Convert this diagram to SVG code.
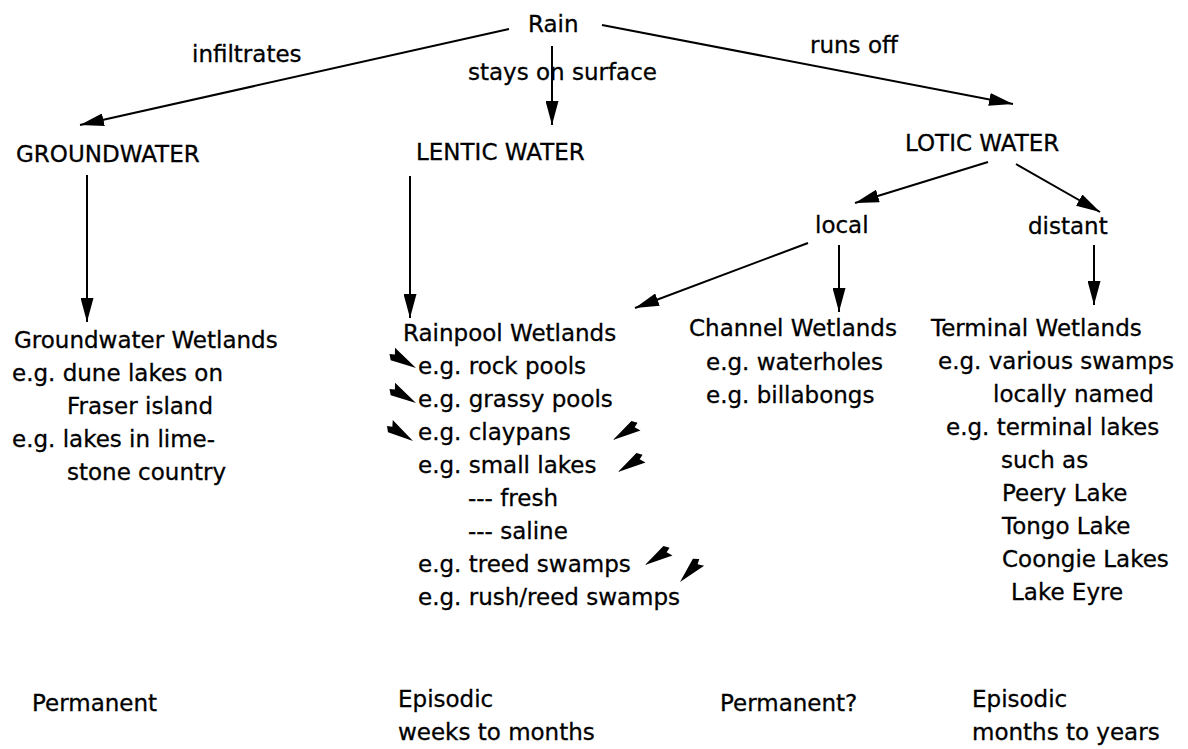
<svg xmlns="http://www.w3.org/2000/svg" width="1188" height="749" viewBox="0 0 1188 749">
<style>
text{font-family:"DejaVu Sans","Liberation Sans",sans-serif;font-size:23px;fill:#000;stroke:#000;stroke-width:0.3}
.c{stroke:#000;stroke-width:2;fill:none;marker-end:url(#ah)}
.sa{fill:#000}
</style>
<defs>
<marker id="ah" markerUnits="userSpaceOnUse" viewBox="0 0 24 13" refX="24" refY="6.5" markerWidth="24" markerHeight="13" orient="auto">
<path d="M0,0 L24,6.5 L0,13 Z" fill="#000"/>
</marker>
<path id="stray" d="M0,0 L-28,-8 L-25,-2 L-30,0 L-26,5 Z"/>
</defs>
<rect width="1188" height="749" fill="#fff"/>
<g id="connectors">
<line class="c" x1="509" y1="29" x2="80" y2="125"/>
<line class="c" x1="552" y1="46" x2="552" y2="125"/>
<line class="c" x1="602" y1="25" x2="1013" y2="104"/>
<line class="c" x1="87" y1="175" x2="87" y2="322"/>
<line class="c" x1="410" y1="176" x2="410" y2="318"/>
<line class="c" x1="988" y1="162" x2="855" y2="203"/>
<line class="c" x1="1016" y1="164" x2="1100" y2="212"/>
<line class="c" x1="839" y1="245" x2="839" y2="312"/>
<line class="c" x1="1094" y1="245" x2="1094" y2="305"/>
<line class="c" x1="808" y1="243" x2="635" y2="308"/>
<g class="sa">
<use href="#stray" transform="translate(416,368) rotate(28)"/>
<use href="#stray" transform="translate(416,403) rotate(28)"/>
<use href="#stray" transform="translate(413,441) rotate(30)"/>
<use href="#stray" transform="translate(613,440) rotate(145)"/>
<use href="#stray" transform="translate(618,472) rotate(145)"/>
<use href="#stray" transform="translate(645,565) rotate(145)"/>
<use href="#stray" transform="translate(680,582) rotate(130)"/>
</g>
</g>
<g id="rain"><text x="528" y="32">Rain</text></g>
<g id="lbl-infiltrates"><text x="192" y="62">infiltrates</text></g>
<g id="lbl-stays"><text x="468" y="80">stays on surface</text></g>
<g id="lbl-runs"><text x="810" y="53">runs off</text></g>
<g id="groundwater"><text x="16" y="162">GROUNDWATER</text></g>
<g id="lentic"><text x="416" y="160">LENTIC WATER</text></g>
<g id="lotic"><text x="905" y="151">LOTIC WATER</text></g>
<g id="local"><text x="815" y="233">local</text></g>
<g id="distant"><text x="1028" y="234">distant</text></g>
<g id="gw-wetlands">
<text x="14" y="348">Groundwater Wetlands</text>
<text x="12" y="381">e.g. dune lakes on</text>
<text x="67" y="414">Fraser island</text>
<text x="12" y="447">e.g. lakes in lime-</text>
<text x="67" y="480">stone country</text>
</g>
<g id="rainpool-wetlands">
<text x="403" y="341">Rainpool Wetlands</text>
<text x="418" y="374">e.g. rock pools</text>
<text x="418" y="407">e.g. grassy pools</text>
<text x="418" y="440">e.g. claypans</text>
<text x="418" y="473">e.g. small lakes</text>
<text x="468" y="506">--- fresh</text>
<text x="468" y="539">--- saline</text>
<text x="418" y="572">e.g. treed swamps</text>
<text x="418" y="605">e.g. rush/reed swamps</text>
</g>
<g id="channel-wetlands">
<text x="689" y="336">Channel Wetlands</text>
<text x="706" y="370">e.g. waterholes</text>
<text x="706" y="403">e.g. billabongs</text>
</g>
<g id="terminal-wetlands">
<text x="931" y="336">Terminal Wetlands</text>
<text x="938" y="369">e.g. various swamps</text>
<text x="993" y="402">locally named</text>
<text x="946" y="435">e.g. terminal lakes</text>
<text x="1001" y="468">such as</text>
<text x="1002" y="501">Peery Lake</text>
<text x="1002" y="534">Tongo Lake</text>
<text x="1002" y="567">Coongie Lakes</text>
<text x="1011" y="600">Lake Eyre</text>
</g>
<g id="permanence">
<text x="32" y="711">Permanent</text>
<text x="398" y="707">Episodic</text>
<text x="398" y="740">weeks to months</text>
<text x="720" y="711">Permanent?</text>
<text x="972" y="707">Episodic</text>
<text x="972" y="740">months to years</text>
</g>
</svg>
